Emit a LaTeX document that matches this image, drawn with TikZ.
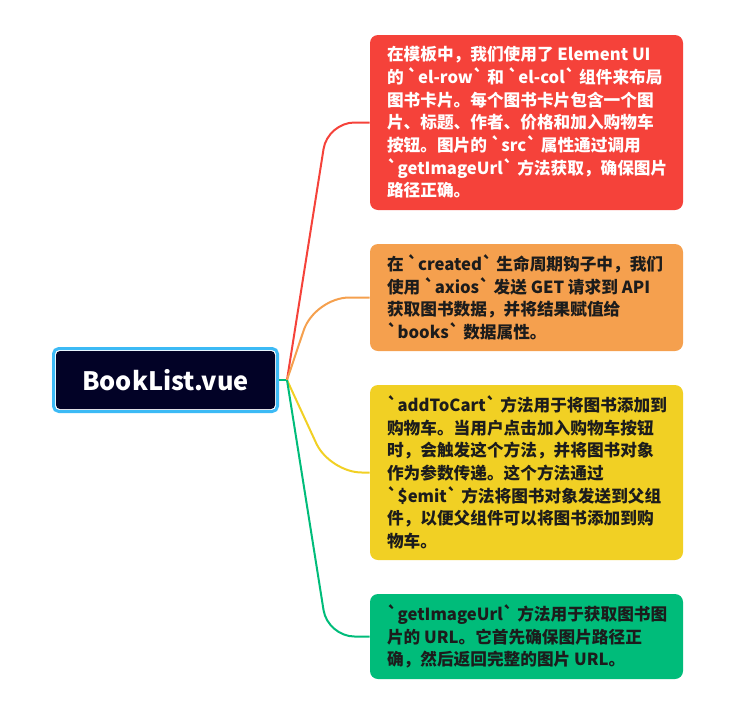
\documentclass[tikz,border=0pt]{standalone}
\usepackage{fontspec}
\newfontfamily\cjkfont{Noto Sans CJK SC}
\usetikzlibrary{positioning}
\definecolor{myred}{RGB}{245,66,58}
\definecolor{myorange}{RGB}{245,160,78}
\definecolor{myyellow}{RGB}{241,208,36}
\definecolor{mygreen}{RGB}{0,188,122}
\definecolor{mydark}{RGB}{2,2,38}
\definecolor{mycyan}{RGB}{60,186,245}
\definecolor{mytext}{RGB}{28,28,28}
\newcommand\bq{\symbol{96}}
\tikzset{
  card/.style={rounded corners=6pt, minimum width=234.75pt, inner sep=0pt},
  cardtext/.style={anchor=west, align=left, inner sep=0pt, text=mytext,
    font=\cjkfont\bfseries\fontsize{12.5}{17}\selectfont},
  branch/.style={line width=1.5pt, rounded corners=20pt}
}
\begin{document}
\begin{tikzpicture}[x=0.75pt, y=-0.75pt]
  \useasboundingbox (0,0) rectangle (735,700);
  % ═══════════════════════════════════════════════════════════════
  % ROOT NODE
  % ═══════════════════════════════════════════════════════════════
  \node[draw=mycyan, line width=2.25pt, rounded corners=4pt, minimum width=168pt, minimum height=47.25pt] (frame) at (165.5,380) {};
  \node[fill=mydark, rounded corners=3pt, minimum width=164.25pt, minimum height=43.5pt, text=white,
    font=\cjkfont\bfseries\fontsize{19}{22}\selectfont] (root) at (165.5,380) {BookList.vue};
  \coordinate (hub) at (287,380);

  % ═══════════════════════════════════════════════════════════════
  % CARDS (right column)
  % ═══════════════════════════════════════════════════════════════
  \node[card, fill=myred, minimum height=131.25pt] (template) at (526.5,122.5) {};
  \node[cardtext, text=white] (templatetxt) at ([shift={(17,0)}]template.west) {%
    在模板中，我们使用了 Element UI\\
    的 \bq el-row\bq{} 和 \bq el-col\bq{} 组件来布局\\
    图书卡片。每个图书卡片包含一个图\\
    片、标题、作者、价格和加入购物车\\
    按钮。图片的 \bq src\bq{} 属性通过调用\\
    \bq getImageUrl\bq{} 方法获取，确保图片\\
    路径正确。};

  \node[card, fill=myorange, minimum height=80.25pt] (created) at (526.5,297.5) {};
  \node[cardtext] (createdtxt) at ([shift={(17,0)}]created.west) {%
    在 \bq created\bq{} 生命周期钩子中，我们\\
    使用 \bq axios\bq{} 发送 GET 请求到 API\\
    获取图书数据，并将结果赋值给\\
    \bq books\bq{} 数据属性。};

  \node[card, fill=myyellow, minimum height=131.25pt] (addcart) at (526.5,472.5) {};
  \node[cardtext] (addcarttxt) at ([shift={(17,0)}]addcart.west) {%
    \bq addToCart\bq{} 方法用于将图书添加到\\
    购物车。当用户点击加入购物车按钮\\
    时，会触发这个方法，并将图书对象\\
    作为参数传递。这个方法通过\\
    \bq\$emit\bq{} 方法将图书对象发送到父组\\
    件，以便父组件可以将图书添加到购\\
    物车。};

  \node[card, fill=mygreen, minimum height=63.75pt] (imgurl) at (526.5,636.5) {};
  \node[cardtext] (imgurltxt) at ([shift={(17,0)}]imgurl.west) {%
    \bq getImageUrl\bq{} 方法用于获取图书图\\
    片的 URL。它首先确保图片路径正\\
    确，然后返回完整的图片 URL。};

  % ═══════════════════════════════════════════════════════════════
  % BRANCHES
  % ═══════════════════════════════════════════════════════════════
  \draw[branch, color=mygreen] (frame.east) -- (hub);
  \draw[branch, color=myred] (hub) -- ([shift={(-42,0)}]template.west) -- (template.west);
  \draw[branch, color=myorange, rounded corners=26pt] (hub) -- ([shift={(-55,0)}]created.west) -- (created.west);
  \draw[branch, color=myyellow, rounded corners=24pt] (hub) -- ([shift={(-40,0)}]addcart.west) -- (addcart.west);
  \draw[branch, color=mygreen] (hub) -- ([shift={(-42,0)}]imgurl.west) -- (imgurl.west);
\end{tikzpicture}
\end{document}
